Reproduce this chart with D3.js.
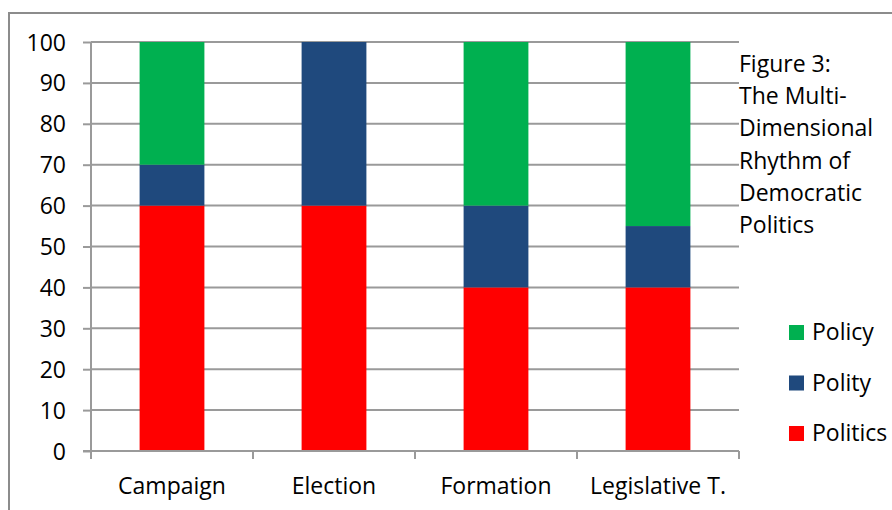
<!DOCTYPE html>
<html>
<head>
<meta charset="utf-8">
<script src="https://cdn.jsdelivr.net/npm/d3@7"></script>
<style>
  body { margin: 0; background: #fff; }
  svg text { font-family: "Open Sans", sans-serif; fill: #000; }
</style>
</head>
<body>
<svg id="chart" width="892" height="510"></svg>
<script>
var categories = ["Campaign", "Election", "Formation", "Legislative T."];
var politics = [60, 60, 40, 40];
var polity = [10, 40, 20, 15];
var policy = [30, 0, 40, 45];
var yTicks = [0, 10, 20, 30, 40, 50, 60, 70, 80, 90, 100];
var seriesNames = ["Politics", "Polity", "Policy"];
var seriesColors = ["#ff0000", "#1f497d", "#00b050"];
var titleLines = ["Figure 3:", "The Multi-", "Dimensional", "Rhythm of", "Democratic", "Politics"];

var svg = d3.select("#chart");

// outer frame (only top and left visible in the crop)
svg.append("rect")
    .attr("x", 9).attr("y", 13)
    .attr("width", 900).attr("height", 520)
    .attr("fill", "none")
    .attr("stroke", "#8c8c8c")
    .attr("stroke-width", 2);

var plotLeft = 91, plotRight = 739, plotTop = 42, plotBottom = 451;

var x = d3.scaleBand()
    .domain(categories)
    .range([plotLeft, plotRight])
    .paddingInner(0.6)
    .paddingOuter(0.3);

var y = d3.scaleLinear()
    .domain([0, 100])
    .range([plotBottom, plotTop]);

// gridlines
svg.append("g")
    .selectAll("line")
    .data(yTicks.filter(d => d > 0))
    .enter().append("line")
    .attr("x1", plotLeft).attr("x2", plotRight)
    .attr("y1", d => y(d)).attr("y2", d => y(d))
    .attr("stroke", "#9a9a9a")
    .attr("stroke-width", 2);

// stacked bars
var rows = categories.map(function(c, i) {
    return { cat: c, Politics: politics[i], Polity: polity[i], Policy: policy[i] };
});
var stack = d3.stack().keys(seriesNames)(rows);

svg.append("g")
    .selectAll("g")
    .data(stack)
    .enter().append("g")
    .attr("fill", (d, i) => seriesColors[i])
    .selectAll("rect")
    .data(d => d)
    .enter().append("rect")
    .attr("x", d => x(d.data.cat))
    .attr("width", x.bandwidth())
    .attr("y", d => y(d[1]))
    .attr("height", d => y(d[0]) - y(d[1]));

// y axis
var yAxis = svg.append("g")
    .attr("transform", "translate(" + plotLeft + ",0)")
    .call(d3.axisLeft(y).tickValues(yTicks).tickSize(8).tickPadding(17).tickFormat(d3.format("d")));
yAxis.selectAll("path, line").attr("stroke", "#9a9a9a").attr("stroke-width", 2);
yAxis.select(".domain").attr("d", "M0," + plotTop + "V" + plotBottom);
yAxis.selectAll("text")
    .style("font-family", "Open Sans, sans-serif")
    .style("font-size", "23px")
    .attr("fill", "#000")
    .attr("dy", "0.35em");

// x axis with boundary ticks
var catWidth = (plotRight - plotLeft) / categories.length;
var xAxis = svg.append("g");
xAxis.append("line")
    .attr("x1", plotLeft - 8).attr("x2", plotRight)
    .attr("y1", plotBottom).attr("y2", plotBottom)
    .attr("stroke", "#9a9a9a").attr("stroke-width", 2);
xAxis.selectAll(".bt")
    .data(d3.range(categories.length + 1))
    .enter().append("line")
    .attr("x1", d => plotLeft + d * catWidth).attr("x2", d => plotLeft + d * catWidth)
    .attr("y1", plotBottom).attr("y2", plotBottom + 8)
    .attr("stroke", "#9a9a9a").attr("stroke-width", 2);
xAxis.selectAll("text")
    .data(categories)
    .enter().append("text")
    .attr("x", d => x(d) + x.bandwidth() / 2)
    .attr("y", 494)
    .attr("text-anchor", "middle")
    .style("font-size", "23px")
    .text(d => d);

// title on the right
svg.append("text")
    .attr("x", 739)
    .attr("y", 72)
    .style("font-size", "23px")
    .selectAll("tspan")
    .data(titleLines)
    .enter().append("tspan")
    .attr("x", 739)
    .attr("dy", (d, i) => i === 0 ? 0 : 32.2)
    .text(d => d);

// legend (Policy on top)
var legend = svg.append("g")
    .selectAll("g")
    .data(seriesNames.slice().reverse())
    .enter().append("g")
    .attr("transform", (d, i) => "translate(789," + (325 + i * 50.5) + ")");
legend.append("rect")
    .attr("width", 15).attr("height", 15)
    .attr("fill", d => seriesColors[seriesNames.indexOf(d)]);
legend.append("text")
    .attr("x", 23).attr("y", 15)
    .style("font-size", "23px")
    .text(d => d);
</script>
</body>
</html>
